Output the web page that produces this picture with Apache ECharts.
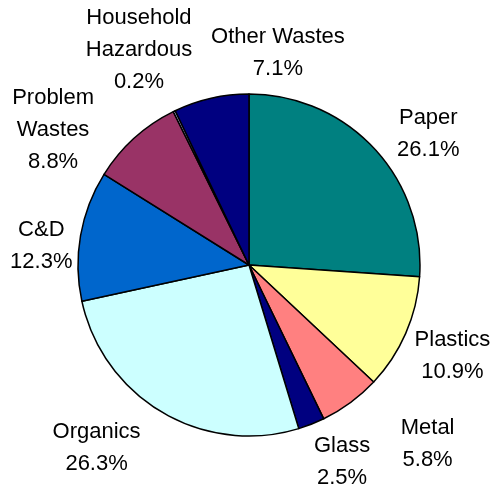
<!DOCTYPE html>
<html><head><meta charset="utf-8">
<script src="https://cdn.jsdelivr.net/npm/echarts@6/dist/echarts.min.js"></script>
<style>html,body{margin:0;padding:0;background:#fff}#c{width:491px;height:491px}</style>
</head><body><div id="c"></div>
<script>
const categories = ["Paper","Plastics","Metal","Glass","Organics","C&D","Problem\nWastes","Household\nHazardous","Other Wastes"];
const values = [26.1,10.9,5.8,2.5,26.3,12.3,8.8,0.2,7.1];
const colors = ["#008080","#FFFF99","#FF8080","#000080","#CCFFFF","#0066CC","#993366","#CCCCFF","#000080"];
// label nudges (px) relative to radial anchor
const labelNudge = [[17,20],[0,2],[47,0],[12,-10],[-40,-9],[11,19],[-47,30],[-13,-15],[78,4]];

const CX = 249, CY = 265, R = 171, LR = 222;
const total = values.reduce((a,b)=>a+b,0);
const mids = []; let acc = 0;
values.forEach(v => { mids.push((acc + v/2)/total*2*Math.PI); acc += v; });

const chart = echarts.init(document.getElementById('c'));
chart.setOption({
  animation:false,
  series:[{
    type:'pie',
    center:[CX,CY],
    radius:[0,R],
    startAngle:90,
    clockwise:true,
    avoidLabelOverlap:false,
    itemStyle:{borderColor:'#000',borderWidth:1.5},
    emphasis:{disabled:true},
    label:{
      show:true, position:'outside',
      fontFamily:'Liberation Sans, Arial, sans-serif', fontSize:22, lineHeight:32,
      color:'#000', align:'center',
      formatter: p => p.name + '\n' + p.value.toFixed(1) + '%'
    },
    labelLine:{show:false},
    labelLayout: p => {
      const i = p.dataIndex, a = mids[i];
      return {
        x: CX + LR*Math.sin(a) + labelNudge[i][0],
        y: CY - LR*Math.cos(a) + labelNudge[i][1],
        align:'center', verticalAlign:'middle'
      };
    },
    data: categories.map((c,i)=>({name:c,value:values[i],itemStyle:{color:colors[i]}}))
  }]
});
</script></body></html>
